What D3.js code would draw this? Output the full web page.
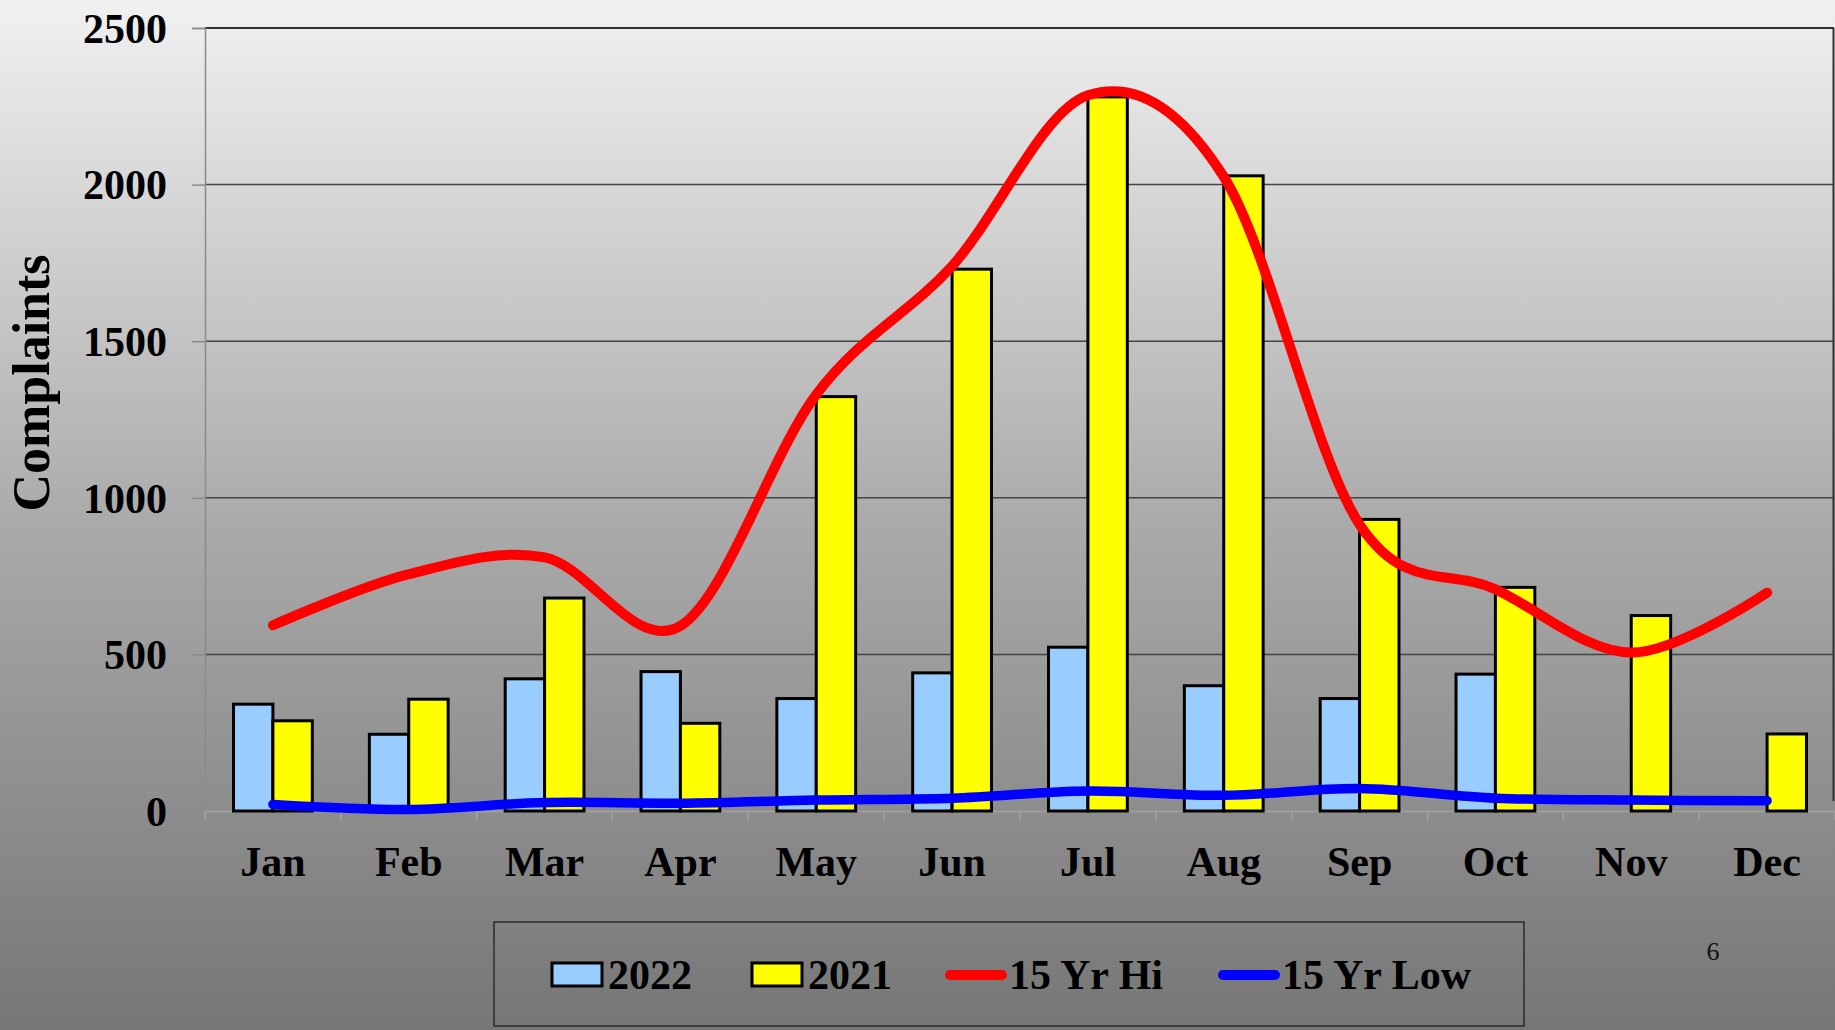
<!DOCTYPE html>
<html>
<head>
<meta charset="utf-8">
<script src="https://cdn.jsdelivr.net/npm/d3@7"></script>
<style>
  html, body { margin: 0; padding: 0; }
  body { width: 1835px; height: 1030px; overflow: hidden; }
  svg { display: block; font-family: "Liberation Serif", "Times New Roman", serif; }
</style>
</head>
<body>
<div id="chart"></div>
<script>
// data
var months = ["Jan", "Feb", "Mar", "Apr", "May", "Jun", "Jul", "Aug", "Sep", "Oct", "Nov", "Dec"];
var y2022 = [341, 245, 422, 445, 359, 441, 523, 400, 359, 437, null, null];
var y2021 = [288, 357, 680, 280, 1323, 1730, 2280, 2028, 931, 714, 624, 246];
var hi15 = [593, 756, 810, 591, 1330, 1740, 2285, 2025, 915, 708, 506, 697];
var low15 = [21, 5, 27, 25, 35, 41, 64, 50, 72, 41, 35, 33];
var yTicks = [0, 500, 1000, 1500, 2000, 2500];

var W = 1835, H = 1030;
var plotLeft = 205, plotRight = 1835, plotTop = 28, plotBottom = 811;

var svg = d3.select("#chart").append("svg")
    .attr("width", W)
    .attr("height", H);

var defs = svg.append("defs");
var grad = defs.append("linearGradient")
    .attr("id", "bg")
    .attr("x1", 0).attr("y1", 0).attr("x2", 0).attr("y2", 1);
grad.append("stop").attr("offset", "0%").attr("stop-color", "#f1f1f1");
grad.append("stop").attr("offset", "50%").attr("stop-color", "#ababab");
grad.append("stop").attr("offset", "100%").attr("stop-color", "#767676");

svg.append("rect")
    .attr("width", W).attr("height", H)
    .attr("fill", "url(#bg)");

var x = d3.scaleBand().domain(months).range([plotLeft, plotRight]);
var y = d3.scaleLinear().domain([0, 2500]).range([plotBottom, plotTop]);
var barW = x.bandwidth() * 0.29;

// gridlines
svg.append("g")
    .selectAll("line")
    .data(yTicks.filter(function(d) { return d > 0; }))
    .enter().append("line")
    .attr("x1", plotLeft).attr("x2", plotRight - 1)
    .attr("y1", function(d) { return y(d); })
    .attr("y2", function(d) { return y(d); })
    .attr("stroke", function(d) { return d == 2500 ? "#333" : "#454545"; })
    .attr("stroke-width", function(d) { return d == 2500 ? 2.2 : 1.5; });

// right border of plot area
svg.append("line")
    .attr("x1", plotRight - 1.5).attr("x2", plotRight - 1.5)
    .attr("y1", plotTop).attr("y2", plotBottom - 10)
    .attr("stroke", "#333").attr("stroke-width", 2);

// y axis
var yAxis = svg.append("g")
    .attr("transform", "translate(" + plotLeft + ",0)")
    .call(d3.axisLeft(y).tickValues(yTicks).tickFormat(d3.format("d")).tickSize(13).tickPadding(25));
yAxis.select(".domain").attr("stroke", "#8a8a8a").attr("stroke-width", 1.5);
yAxis.selectAll(".tick line").attr("stroke", "#8a8a8a").attr("stroke-width", 1.5);
yAxis.selectAll("text")
    .attr("font-family", "Liberation Serif, Times New Roman, serif")
    .attr("font-size", 42)
    .attr("font-weight", "bold")
    .attr("fill", "#000")
    .attr("dy", "0.34em");

// x axis
var xAxis = svg.append("g")
    .attr("transform", "translate(0," + plotBottom + ")")
    .call(d3.axisBottom(x).tickSize(0).tickPadding(0));
xAxis.select(".domain").attr("stroke", "#a2a2a2").attr("stroke-width", 1.5);
xAxis.selectAll("text")
    .attr("font-family", "Liberation Serif, Times New Roman, serif")
    .attr("font-size", 42)
    .attr("font-weight", "bold")
    .attr("fill", "#000")
    .attr("y", 65)
    .attr("dy", 0);
xAxis.selectAll(".bound")
    .data(months.concat(["end"]))
    .enter().append("line")
    .attr("class", "bound")
    .attr("x1", function(d, i) { return plotLeft + i * x.bandwidth(); })
    .attr("x2", function(d, i) { return plotLeft + i * x.bandwidth(); })
    .attr("y1", 0).attr("y2", 9)
    .attr("stroke", "#a2a2a2").attr("stroke-width", 1.5);

// bars
var bars = svg.append("g");
bars.selectAll(".b2022")
    .data(months.map(function(m, i) { return { m: m, v: y2022[i] }; }).filter(function(d) { return d.v != null; }))
    .enter().append("rect")
    .attr("class", "b2022")
    .attr("x", function(d) { return x(d.m) + x.bandwidth() / 2 - barW; })
    .attr("y", function(d) { return y(d.v); })
    .attr("width", barW)
    .attr("height", function(d) { return plotBottom - y(d.v); })
    .attr("fill", "#99ccff")
    .attr("stroke", "#000")
    .attr("stroke-width", 3);

bars.selectAll(".b2021")
    .data(months.map(function(m, i) { return { m: m, v: y2021[i] }; }))
    .enter().append("rect")
    .attr("class", "b2021")
    .attr("x", function(d) { return x(d.m) + x.bandwidth() / 2; })
    .attr("y", function(d) { return y(d.v); })
    .attr("width", barW)
    .attr("height", function(d) { return plotBottom - y(d.v); })
    .attr("fill", "#ffff00")
    .attr("stroke", "#000")
    .attr("stroke-width", 3);

// smoothed lines
var line = d3.line()
    .x(function(d, i) { return x(months[i]) + x.bandwidth() / 2; })
    .y(function(d) { return y(d); })
    .curve(d3.curveCatmullRom.alpha(0));

svg.append("path")
    .attr("d", line(hi15))
    .attr("fill", "none")
    .attr("stroke", "#ff0000")
    .attr("stroke-width", 10)
    .attr("stroke-linecap", "round")
    .attr("stroke-linejoin", "round");

svg.append("path")
    .attr("d", line(low15))
    .attr("fill", "none")
    .attr("stroke", "#0000ff")
    .attr("stroke-width", 9.5)
    .attr("stroke-linecap", "round")
    .attr("stroke-linejoin", "round");

// y title
svg.append("text")
    .attr("transform", "translate(49,383) rotate(-90)")
    .attr("text-anchor", "middle")
    .attr("font-size", 52)
    .attr("font-weight", "bold")
    .attr("fill", "#000")
    .text("Complaints");

// legend
var legend = svg.append("g");
legend.append("rect")
    .attr("x", 494).attr("y", 922)
    .attr("width", 1030).attr("height", 104)
    .attr("fill", "none")
    .attr("stroke", "#2b2b2b")
    .attr("stroke-width", 1.5);

var legendItems = [
    { label: "2022", type: "box", color: "#99ccff", x: 552 },
    { label: "2021", type: "box", color: "#ffff00", x: 752 },
    { label: "15 Yr Hi", type: "line", color: "#ff0000", x: 950 },
    { label: "15 Yr Low", type: "line", color: "#0000ff", x: 1223 }
];

legendItems.forEach(function(d) {
    if (d.type == "box") {
        legend.append("rect")
            .attr("x", d.x).attr("y", 963)
            .attr("width", 50).attr("height", 23)
            .attr("fill", d.color)
            .attr("stroke", "#000")
            .attr("stroke-width", 3);
    } else {
        legend.append("line")
            .attr("x1", d.x).attr("x2", d.x + 52)
            .attr("y1", 975).attr("y2", 975)
            .attr("stroke", d.color)
            .attr("stroke-width", 10)
            .attr("stroke-linecap", "round");
    }
    legend.append("text")
        .attr("x", d.type == "box" ? d.x + 56 : d.x + 59)
        .attr("y", 989)
        .attr("font-size", 42)
        .attr("font-weight", "bold")
        .attr("fill", "#000")
        .text(d.label);
});

// slide number
svg.append("text")
    .attr("x", 1713).attr("y", 960)
    .attr("text-anchor", "middle")
    .attr("font-size", 26)
    .attr("fill", "#111")
    .text("6");
</script>
</body>
</html>
